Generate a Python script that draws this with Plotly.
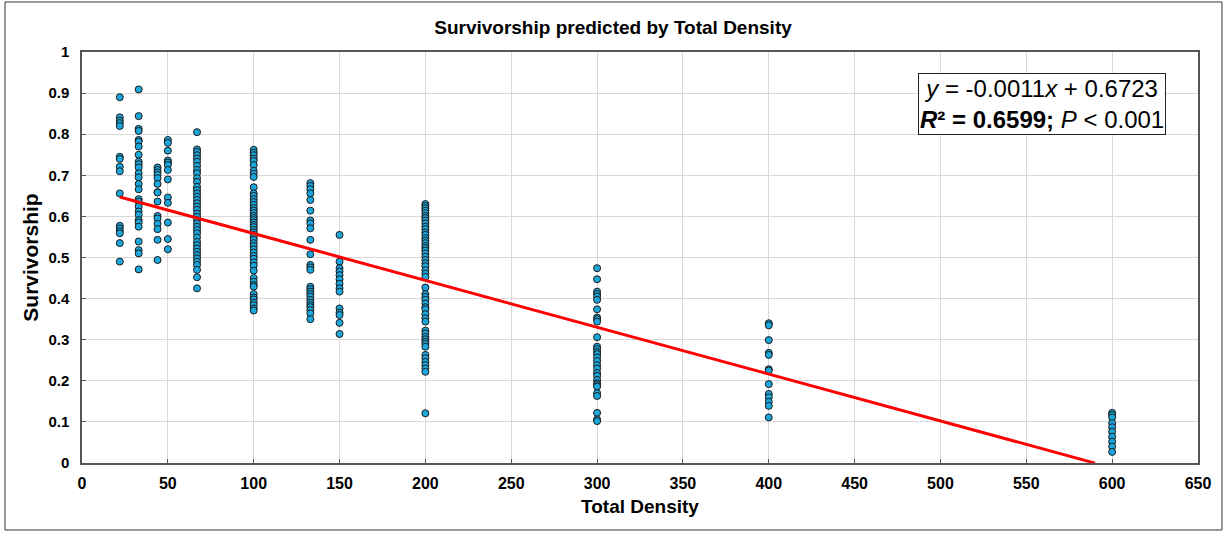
import plotly.graph_objects as go

# Data
density_levels = [22, 33, 44, 50, 67, 100, 133, 150, 200, 300, 400, 600]
survivorship = {
    22: [0.890, 0.841, 0.833, 0.827, 0.820, 0.745, 0.740, 0.721, 0.710, 0.656,
         0.577, 0.571, 0.564, 0.559, 0.535, 0.490],
    33: [0.909, 0.844, 0.813, 0.808, 0.786, 0.782, 0.770, 0.750, 0.733, 0.727,
         0.719, 0.705, 0.695, 0.679, 0.666, 0.642, 0.636, 0.624, 0.612, 0.604,
         0.591, 0.585, 0.575, 0.539, 0.518, 0.510, 0.471],
    44: [0.719, 0.713, 0.707, 0.701, 0.693, 0.679, 0.659, 0.658, 0.636, 0.601,
         0.595, 0.582, 0.569, 0.543, 0.494],
    50: [0.786, 0.779, 0.760, 0.736, 0.731, 0.725, 0.713, 0.690, 0.646, 0.633,
         0.585, 0.545, 0.520],
    67: [0.805, 0.763, 0.757, 0.749, 0.741, 0.733, 0.723, 0.713, 0.705, 0.693,
         0.684, 0.672, 0.664, 0.656, 0.648, 0.640, 0.632, 0.624, 0.616, 0.607,
         0.599, 0.591, 0.583, 0.575, 0.567, 0.559, 0.549, 0.538, 0.530, 0.522,
         0.514, 0.506, 0.498, 0.490, 0.482, 0.470, 0.452, 0.425],
    100: [0.762, 0.755, 0.749, 0.741, 0.735, 0.725, 0.711, 0.704, 0.696, 0.671,
          0.656, 0.650, 0.642, 0.635, 0.628, 0.620, 0.614, 0.608, 0.601, 0.596,
          0.591, 0.585, 0.579, 0.574, 0.567, 0.561, 0.555, 0.549, 0.543, 0.535,
          0.528, 0.520, 0.512, 0.504, 0.497, 0.488, 0.480, 0.468, 0.450, 0.441,
          0.433, 0.429, 0.411, 0.403, 0.398, 0.390, 0.384, 0.376, 0.371],
    133: [0.681, 0.674, 0.666, 0.656, 0.640, 0.614, 0.590, 0.583, 0.571, 0.543,
          0.508, 0.482, 0.476, 0.470, 0.429, 0.423, 0.417, 0.411, 0.405, 0.397,
          0.390, 0.384, 0.379, 0.372, 0.364, 0.350],
    150: [0.555, 0.490, 0.474, 0.466, 0.457, 0.447, 0.436, 0.425, 0.417, 0.376,
          0.366, 0.360, 0.341, 0.314],
    200: [0.630, 0.625, 0.620, 0.614, 0.608, 0.601, 0.596, 0.590, 0.583, 0.575,
          0.569, 0.561, 0.555, 0.547, 0.541, 0.535, 0.528, 0.523, 0.517, 0.510,
          0.502, 0.494, 0.486, 0.479, 0.469, 0.461, 0.453, 0.427, 0.411, 0.404,
          0.397, 0.388, 0.379, 0.374, 0.362, 0.352, 0.344, 0.322, 0.315, 0.307,
          0.301, 0.295, 0.290, 0.283, 0.263, 0.255, 0.246, 0.238, 0.230, 0.222,
          0.121],
    300: [0.474, 0.447, 0.417, 0.411, 0.405, 0.397, 0.374, 0.354, 0.350, 0.344,
          0.306, 0.283, 0.277, 0.270, 0.265, 0.257, 0.248, 0.238, 0.230, 0.219,
          0.212, 0.202, 0.194, 0.190, 0.186, 0.170, 0.163, 0.122, 0.106, 0.102],
    400: [0.340, 0.335, 0.299, 0.268, 0.263, 0.228, 0.225, 0.192, 0.168, 0.160,
          0.149, 0.139, 0.111],
    600: [0.122, 0.117, 0.111, 0.097, 0.087, 0.076, 0.064, 0.052, 0.040, 0.027],
}
slope = -0.00114
intercept = 0.6723
fit_x_range = [22, 590]

x_ticks = list(range(0, 651, 50))
y_ticks = [0, 0.1, 0.2, 0.3, 0.4, 0.5, 0.6, 0.7, 0.8, 0.9, 1]

xs, ys = [], []
for d in density_levels:
    for v in survivorship[d]:
        xs.append(d)
        ys.append(v)

FONT = "Liberation Sans, Arial, sans-serif"
fig = go.Figure()
fig.add_trace(go.Scatter(
    x=xs, y=ys, mode="markers",
    marker=dict(size=7, color="#1ba6dc", line=dict(color="#1a1a1a", width=1)),
    showlegend=False, hoverinfo="x+y"))
fig.add_trace(go.Scatter(
    x=fit_x_range, y=[slope * v + intercept for v in fit_x_range],
    mode="lines", line=dict(color="#ff0000", width=3), showlegend=False))

fig.add_annotation(
    x=0.86, y=0.873, xref="paper", yref="paper", xanchor="center", yanchor="middle",
    text="<i>y</i> = -0.0011<i>x</i> + 0.6723<br><b><i>R</i>² = 0.6599;</b> <i>P</i> &lt; 0.001",
    showarrow=False, align="center",
    font=dict(family=FONT, size=24, color="#000000"),
    bordercolor="#222222", borderwidth=1, borderpad=1, bgcolor="white")

fig.add_shape(type="rect", xref="paper", yref="paper",
              x0=-0.0690, x1=1.0215, y0=-0.163, y1=1.1217,
              line=dict(color="#333333", width=1), layer="below")

fig.update_layout(
    width=1226, height=533,
    margin=dict(l=82, r=28, t=52, b=70),
    paper_bgcolor="white", plot_bgcolor="white",
    title=dict(text="<b>Survivorship predicted by Total Density</b>",
               x=0.5, xanchor="center", y=0.949, yanchor="middle",
               font=dict(family=FONT, size=19, color="#000000")),
    font=dict(family=FONT, color="#000000"),
)
fig.update_xaxes(
    range=[0, 650], tickvals=x_ticks, ticktext=[f"<b>{t}</b>" for t in x_ticks],
    showgrid=True, gridcolor="#d9d9d9", gridwidth=1,
    showline=True, linecolor="#555555", linewidth=1.5, mirror=True,
    ticks="inside", ticklen=4, tickcolor="#555555", zeroline=False,
    ticklabelstandoff=5,
    tickfont=dict(family=FONT, size=16, color="#000000"),
    title=dict(text="<b>Total Density</b>", font=dict(family=FONT, size=19, color="#000000"),
               standoff=9))
fig.update_yaxes(
    range=[0, 1], tickvals=y_ticks, ticktext=[f"<b>{t:g}</b>" for t in y_ticks],
    showgrid=True, gridcolor="#d9d9d9", gridwidth=1,
    showline=True, linecolor="#555555", linewidth=1.5, mirror=True,
    ticks="inside", ticklen=4, tickcolor="#555555", zeroline=False,
    ticklabelstandoff=8,
    tickfont=dict(family=FONT, size=15, color="#000000"),
    title=dict(text="<b>Survivorship</b>", font=dict(family=FONT, size=21, color="#000000"),
               standoff=4))

fig.write_html("out.html", config={"displayModeBar": False},
               post_script="document.body.style.margin='0';")
